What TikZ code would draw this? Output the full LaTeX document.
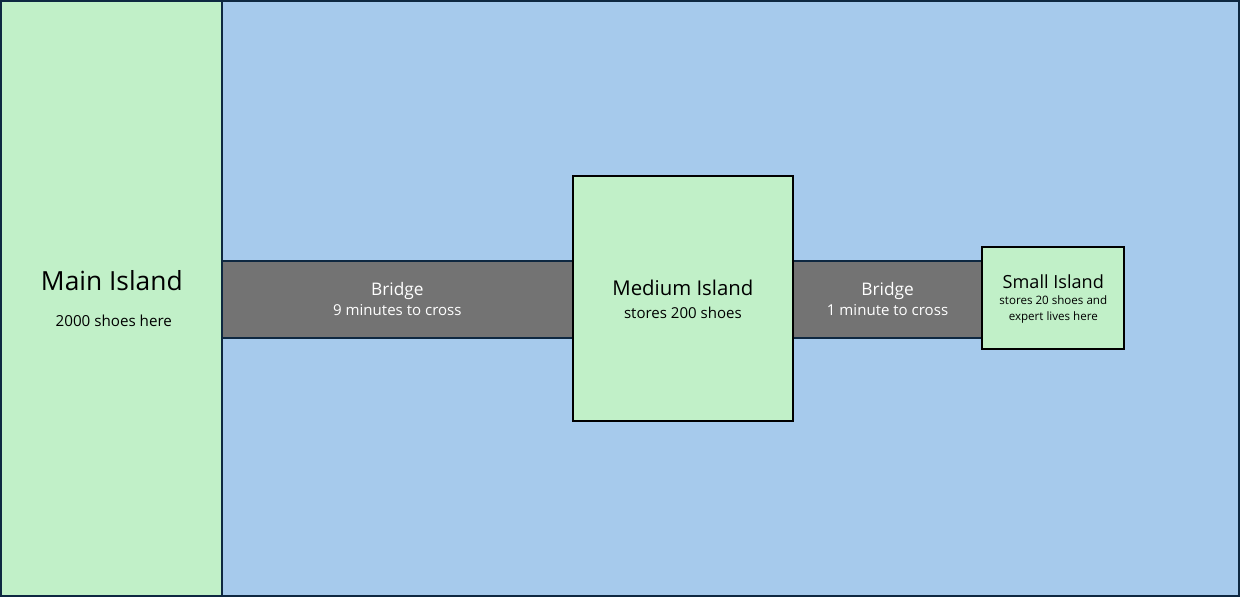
\documentclass[tikz,border=0pt]{standalone}
\usepackage{fontspec}
\setmainfont{Open Sans}
\definecolor{water}{HTML}{A6CAEC}
\definecolor{land}{HTML}{C1F0C8}
\definecolor{deck}{HTML}{737373}
\definecolor{shore}{HTML}{0E2841}
\tikzset{
  island/.style={fill=land, draw=black, line width=1.5pt},
  bridge/.style={fill=deck, draw=shore, line width=1.5pt},
  title/.style={inner sep=0pt, anchor=base},
  note/.style={inner sep=0pt, anchor=base, font=\fontsize{11.3}{13}\selectfont}
}
\begin{document}
\begin{tikzpicture}[x=0.75pt, y=-0.75pt]
  % sea
  \draw[fill=water, draw=shore, line width=1.5pt] (0,0) rectangle (1240,596);
  % bridges
  \draw[bridge] (221,260) rectangle (573,338);
  \draw[bridge] (793,260) rectangle (983,338);
  % islands
  \draw[island, draw=shore] (0,0) rectangle (221,596);
  \draw[island] (573,175) rectangle (793,421);
  \draw[island] (983,246) rectangle (1125,349);
  % labels
  \node[title, font=\fontsize{19.8}{23}\selectfont] (main) at (111,290) {Main Island};
  \node[note, font=\fontsize{11.4}{13}\selectfont] (mainnote) at (113,326) {2000 shoes here};
  \node[title, white, font=\fontsize{13}{15}\selectfont] (bridgeA) at (397,295) {Bridge};
  \node[note, white] (bridgeAnote) at (397,315) {9 minutes to cross};
  \node[title, font=\fontsize{15.3}{18}\selectfont] (medium) at (683,295) {Medium Island};
  \node[note] (mediumnote) at (683,318) {stores 200 shoes};
  \node[title, white, font=\fontsize{13}{15}\selectfont] (bridgeB) at (888,295) {Bridge};
  \node[note, white] (bridgeBnote) at (888,315) {1 minute to cross};
  \node[title, font=\fontsize{13.6}{16}\selectfont] (small) at (1054,288) {Small Island};
  \node[note, font=\fontsize{8.7}{10}\selectfont] (smallnoteA) at (1054,304) {stores 20 shoes and};
  \node[note, font=\fontsize{8.7}{10}\selectfont] (smallnoteB) at (1054,320) {expert lives here};
\end{tikzpicture}
\end{document}
